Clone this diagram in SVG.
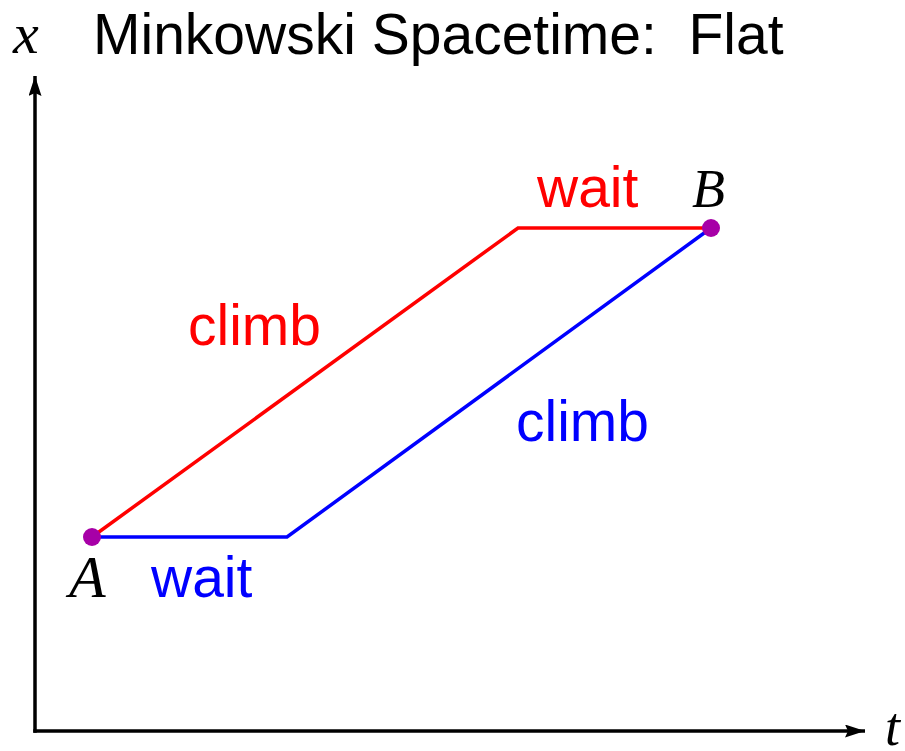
<svg xmlns="http://www.w3.org/2000/svg" width="905" height="751" viewBox="0 0 905 751">
<defs>
<marker id="arr" viewBox="0 0 20 13" refX="20" refY="6.5" markerWidth="20" markerHeight="13" markerUnits="userSpaceOnUse" orient="auto">
<path d="M0,0 L20,6.5 L0,13 L3,6.5 Z" fill="#000"/>
</marker>
<style>
.lbl{font-family:"Liberation Sans",Arial,sans-serif;font-size:57px}
.math{font-family:"Liberation Serif","Times New Roman",serif;font-style:italic;font-size:58px;fill:#000}
.red{fill:#ff0000}
.blue{fill:#0000ff}
</style>
</defs>
<rect width="905" height="751" fill="#fff"/>
<text x="93" y="54" class="lbl" style="font-size:57px" fill="#000" xml:space="preserve">Minkowski Spacetime:  Flat</text>
<g id="axes" fill="none" stroke="#000" stroke-width="3.5">
<path d="M35,732.7 L35,76" marker-end="url(#arr)"/>
<path d="M33.3,731 L865,731" marker-end="url(#arr)"/>
</g>
<text x="13" y="53" class="math">x</text>
<text x="885" y="745" class="math" style="font-size:54px">t</text>
<g id="connectors" fill="none" stroke-width="3.5" stroke-linejoin="miter">
<path id="red-path" d="M92,537 L518,228 L711,228" stroke="#ff0000"/>
<path id="blue-path" d="M92,537 L287,537 L711,228" stroke="#0000ff"/>
</g>
<g id="A"><circle cx="92" cy="537" r="9" fill="#a700a7"/><text x="69" y="597" class="math" style="font-size:60px">A</text></g>
<g id="B"><circle cx="711" cy="228" r="9" fill="#a700a7"/><text x="692" y="207" class="math" style="font-size:54px">B</text></g>
<text x="151" y="597" class="lbl blue">wait</text>
<text x="537" y="207" class="lbl red">wait</text>
<text x="188" y="345" class="lbl red">climb</text>
<text x="516" y="441" class="lbl blue">climb</text>
</svg>
